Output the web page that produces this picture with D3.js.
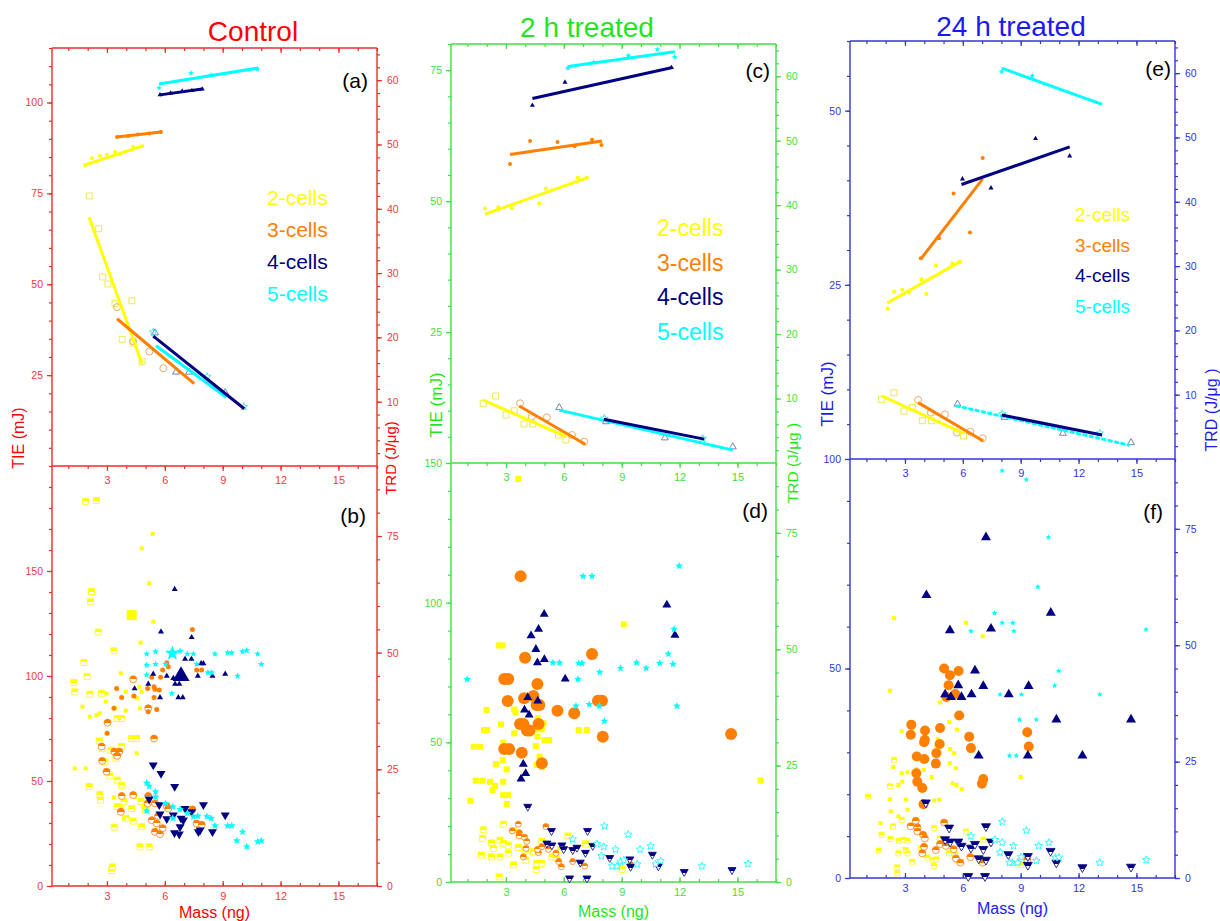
<!DOCTYPE html>
<html>
<head>
<meta charset="utf-8">
<script src="https://cdn.jsdelivr.net/npm/d3@7"></script>
<style>
  body { margin: 0; background: #fff; }
  svg { font-family: "Liberation Sans", Arial, sans-serif; }
</style>
</head>
<body>
<svg id="chart" width="1220" height="921"></svg>
<script>
// shared
const cellNames = ['2-cells', '3-cells', '4-cells', '5-cells'];
const cellColors = ['#ffff00', '#ff8000', '#000080', '#00ffff'];
const openColors = ['#e6e640', '#e8a060', '#6a78a6', '#40e0e0'];
const massTicks = [3, 6, 9, 12, 15];

// ---- Control (a): [mass, value]; fits are [m1, v1, m2, v2]
const ctrlTiePts = [
  [[1.86,82.8],[2.22,84.7],[2.64,85.3],[3.0,85.6],[3.42,86.4],[3.68,85.8],[3.94,86.4],[4.35,87.8],[4.82,88.0]],
  [[3.52,90.5],[4.1,90.8],[4.6,91.2],[5.2,91.5],[5.8,91.9]],
  [[5.75,102.1],[6.3,102.6],[6.9,103.1],[7.4,103.3],[7.94,103.7]],
  [[5.7,104.0],[7.36,108.1],[8.4,107.6],[10.8,109.2]]
];
const ctrlTieFit = [[1.86,82.8,4.82,88.0],[3.52,90.5,5.80,91.9],[5.75,102.1,7.94,103.7],[5.7,105.1,10.85,109.5]];
const ctrlTrdPts = [
  [[2.08,42.0],[2.57,36.9],[2.78,29.4],[3.05,28.3],[3.42,25.3],[4.29,25.7],[3.79,19.7],[4.35,19.1],[4.82,16.2]],
  [[3.52,24.7],[4.35,19.4],[5.92,15.2],[5.2,17.8]],
  [[5.49,20.7],[6.58,14.6],[7.26,14.6],[9.13,11.4]],
  [[5.4,20.8],[8.19,13.9],[10.1,9.2]]
];
const ctrlTrdFit = [[2.07,38.7,4.82,15.9],[3.52,22.9,7.52,12.8],[5.4,20.2,10.12,8.9],[5.54,18.7,9.18,10.7]];

// ---- 2 h treated (c)
const h2TiePts = [
  [[1.91,48.6],[2.6,48.8],[3.3,48.7],[4.72,49.6],[5.07,52.4],[6.73,54.5],[7.2,54.5]],
  [[3.21,57.1],[4.25,61.5],[5.67,61.3],[6.56,60.5],[7.46,61.7],[7.95,60.7]],
  [[4.37,68.3],[6.06,72.7],[11.58,75.5]],
  [[6.21,75.4],[7.55,76.5],[9.34,77.8],[10.85,79.0],[11.75,77.5]]
];
const h2TieFit = [[1.91,47.5,7.23,54.5],[3.21,58.9,7.98,61.5],[4.37,69.6,11.63,75.5],[6.21,75.7,11.75,78.5]];
const h2TrdPts = [
  [[1.82,9.26],[2.46,10.4],[3.0,7.45],[3.43,8.1],[3.94,6.05],[4.39,6.05],[5.72,4.34],[6.11,3.57]],
  [[3.73,9.26],[4.34,7.2],[5.12,7.08],[6.42,4.34],[7.06,3.31]],
  [[5.76,8.6],[8.19,6.4],[11.24,3.9],[14.76,2.5]],
  [[8.1,6.9],[13.2,3.8]]
];
const h2TrdFit = [[1.82,9.77,6.11,4.09],[3.69,8.84,7.11,2.9],[8.07,6.8,13.28,3.7],[5.76,8.2,14.76,2.0]];

// ---- 24 h treated (e)
const h24TiePts = [
  [[2.11,21.6],[2.43,24.0],[2.86,24.3],[3.21,23.9],[3.85,25.8],[4.11,23.7],[4.6,27.8],[5.46,28.1],[5.85,28.3]],
  [[3.82,28.8],[4.77,31.7],[5.52,38.1],[6.37,32.5],[7.03,43.2]],
  [[5.98,40.2],[7.46,38.9],[9.77,46.0],[11.54,43.5]],
  [[8.02,55.6],[9.6,55.0]]
];
const h24TieFit = [[2.08,22.4,5.9,28.4],[3.82,28.7,7.03,40.2],[5.93,39.4,11.54,44.8],[8.02,56.1,13.22,50.9]];
const h24TrdPts = [
  [[1.79,9.28],[2.43,10.3],[2.95,7.46],[3.38,8.0],[3.9,5.96],[4.37,5.96],[6.04,3.58]],
  [[3.68,9.18],[4.34,7.2],[5.07,6.95],[5.69,4.1],[6.39,4.25],[7.03,3.2]],
  [[5.72,8.55],[8.16,6.48],[11.19,4.0],[14.72,2.54]],
  [[8.05,7.0],[13.1,4.0]]
];
const h24TrdFit = [[1.79,9.8,6.04,4.0],[3.68,8.76,7.06,2.8],[8.02,6.84,13.22,3.73],[5.69,8.24,14.58,2.18]];

// ---- Control (b): TIE (filled) and TRD (half) per cell type
const ctrlScatTie = [
  [[5.37,167.6],[4.80,160.8],[5.19,144.1],[5.40,125.9],[4.74,115.9],[3.72,101.3],[4.68,94.9],[4.80,92.5],[2.98,91.7],[4.36,90.5],[3.98,83.5],[4.71,84.6],[2.63,82.2],[2.46,81.4],[1.73,85.4],[2.11,80.6],[3.41,84.6],[2.94,87.8],[3.64,79.8],[2.98,72.7],[4.59,70.8],[4.54,63.2],[1.33,56.0],[1.90,56.0],[3.98,92.5],[4.55,89.4],[3.36,42.2],[4.45,42.5],[4.88,37.8],[3.88,32.2]],
  [[7.43,122.2],[6.10,106.3],[6.18,104.4],[5.89,102.9],[5.78,99.4],[5.32,99.4],[5.44,94.9],[5.49,93.7],[5.71,93.3],[5.44,89.8],[5.11,94.0],[4.40,90.5],[3.76,89.8],[3.50,94.1],[3.36,84.6],[5.14,83.0],[5.58,84.1],[3.01,72.7],[7.65,102.9],[7.91,102.9]],
  [[6.51,141.3],[5.80,121.1],[7.39,118.4],[7.05,108.1],[7.38,108.1],[7.88,106.0],[8.0,106.0],[5.40,101.0],[6.10,100.0],[8.47,100.0],[9.13,101.0],[6.44,98.9],[7.71,100.0],[5.14,96.2],[6.53,96.2],[6.75,96.2],[5.75,89.8],[6.70,89.8],[6.93,89.8],[4.43,94.0]],
  [[5.06,110.5],[5.52,111.6],[6.79,111.9],[7.17,110.5],[7.48,110.5],[8.60,110.5],[9.26,111.1],[9.47,111.1],[10.03,111.6],[10.25,112.1],[10.81,110.5],[11.0,105.6],[5.52,105.6],[5.06,105.2],[6.04,105.6],[7.65,105.6],[8.23,101.6],[8.43,101.6],[5.06,100.5],[9.77,100.0],[6.36,91.7]]
];
const ctrlScatTrd = [
  [[1.89,82.4],[2.46,82.6],[2.20,63.1],[2.15,60.9],[2.55,54.4],[3.36,50.4],[1.80,47.9],[1.97,44.9],[1.28,43.6],[1.33,41.6],[2.11,41.1],[2.72,41.3],[3.53,35.9],[3.76,35.9],[4.28,31.6],[4.54,31.6],[2.60,31.1],[2.75,29.5],[3.20,29.1],[3.46,27.4],[3.76,29.9],[2.89,26.6],[3.15,23.6],[3.53,22.7],[3.76,21.6],[2.08,21.3],[2.63,19.6],[2.67,18.4],[3.38,12.6],[4.28,16.6],[3.71,16.4],[4.36,13.9],[4.80,12.7],[4.76,18.1],[5.00,16.3],[5.19,8.4],[4.71,8.4],[3.98,14.5],[3.24,3.3],[3.29,4.1],[3.88,18.1],[3.53,17.0]],
  [[3.03,35.0],[4.36,44.3],[5.14,38.1],[5.44,31.6],[2.72,29.9],[2.75,26.8],[3.38,28.8],[3.64,28.8],[3.53,27.9],[2.98,24.5],[3.76,19.3],[4.36,19.5],[5.14,19.3],[5.11,17.7],[5.49,17.7],[6.10,17.1],[6.18,16.6],[3.72,15.9],[5.32,14.1],[5.58,13.4],[5.65,15.0],[5.89,12.4],[5.49,11.6],[5.75,11.1],[7.43,16.4],[7.65,13.4],[7.91,13.1]],
  [[5.40,25.9],[5.80,24.1],[6.51,21.3],[5.19,18.6],[5.71,17.4],[5.75,15.4],[6.10,14.4],[6.44,15.2],[7.05,16.6],[6.84,14.5],[6.96,14.1],[6.79,12.7],[7.39,15.9],[8.0,17.4],[9.13,15.2],[7.83,12.0],[7.74,11.6],[6.50,11.4],[6.75,11.1],[8.47,11.6]],
  [[5.06,22.1],[5.19,21.4],[5.52,20.2],[5.52,19.1],[5.06,16.1],[6.04,17.7],[6.41,17.0],[6.79,16.4],[6.41,14.5],[7.17,15.6],[7.48,14.9],[7.71,15.0],[8.18,14.9],[8.40,14.5],[8.60,12.9],[9.26,12.9],[9.47,12.9],[10.03,11.6],[9.73,9.7],[10.25,8.4],[10.81,9.5],[11.0,9.7]]
];
// the three enlarged markers in (b): [cell, mass, TIE]
const ctrlBig = [[0,4.28,129],[3,6.39,110.8],[2,6.84,100]];

// ---- 2 h treated (d)
const h2ScatTie = [
  [[3.64,144.3],[2.65,84.7],[2.83,84.7],[9.11,92.2],[1.99,61.6],[3.43,61.8],[3.50,60.7],[2.74,56.4],[1.86,54.4],[2.03,54.4],[3.43,53.2],[4.65,58.6],[4.95,56.8],[4.69,54.7],[4.86,54.7],[6.77,54.4],[7.20,54.4],[4.99,50.8],[5.24,50.8],[4.63,52.0],[2.86,49.9],[1.33,48.4],[1.65,48.4],[4.55,48.7],[4.74,44.9],[2.83,43.7],[2.48,42.2],[4.59,41.9],[4.86,41.1],[3.04,40.3],[1.44,36.3],[1.79,36.3],[2.17,35.9],[2.43,34.4],[2.31,32.9],[2.86,35.9],[2.86,31.1],[3.12,31.1],[3.04,27.9],[1.16,29.1],[16.2,36.3]],
  [[3.76,109.5],[3.99,80.3],[7.46,81.6],[2.91,72.7],[3.12,72.7],[4.63,70.9],[3.09,64.8],[3.94,65.8],[4.42,66.6],[4.59,63.4],[4.73,63.4],[7.77,64.9],[7.98,64.9],[5.67,61.3],[6.54,60.4],[3.73,56.6],[3.90,56.6],[4.69,56.6],[4.09,54.2],[4.22,54.2],[8.02,52.0],[14.67,53.0],[2.91,47.6],[3.16,47.6],[3.82,46.3],[4.86,42.5]],
  [[4.98,95.9],[4.30,88.2],[4.69,90.5],[4.55,83.3],[4.63,78.5],[4.99,79.7],[6.07,72.7],[4.13,66.1],[4.65,64.8],[3.96,61.6],[4.20,59.8],[3.90,42.2],[4.02,38.9],[3.78,36.9],[11.34,99.2],[11.76,88.4]],
  [[0.99,72.6],[6.99,109.5],[7.46,109.5],[11.98,113.1],[11.71,90.5],[11.42,81.6],[5.43,78.5],[5.78,78.5],[6.77,78.3],[6.94,78.3],[7.86,75.1],[8.94,76.5],[9.77,78.5],[10.27,76.5],[10.97,78.3],[11.66,78.0],[6.73,72.6],[6.63,63.0],[7.32,63.6],[7.84,63.0],[11.86,63.0],[8.10,57.6]]
];
const h2ScatTrd = [
  [[2.86,12.4],[1.82,11.2],[3.39,11.0],[2.25,8.4],[1.79,9.4],[2.69,9.0],[2.86,8.3],[3.12,7.9],[2.34,7.2],[3.64,7.4],[4.0,6.9],[4.42,6.5],[4.86,8.7],[1.73,5.8],[2.25,5.4],[2.69,5.4],[3.12,6.2],[3.39,3.7],[4.03,4.7],[4.57,2.7],[4.6,4.0],[4.86,4.0],[5.39,5.4],[5.64,5.1],[5.82,6.9],[6.21,9.9],[7.12,8.2],[9.02,2.7],[2.65,1.1]],
  [[3.64,12.4],[5.07,11.9],[3.33,11.0],[3.69,10.6],[3.68,9.9],[3.96,9.6],[4.08,8.7],[4.04,7.2],[3.90,5.4],[4.68,6.3],[4.63,7.0],[4.86,7.6],[5.2,7.0],[5.59,6.2],[5.73,4.4],[5.87,3.3],[6.46,4.4],[7.08,3.4],[9.46,3.7]],
  [[4.13,16.2],[5.36,11.0],[7.23,11.0],[5.12,8.3],[5.38,7.9],[5.90,7.9],[5.99,7.1],[6.46,6.9],[6.68,7.4],[7.50,7.8],[7.12,6.3],[6.85,4.2],[8.38,5.2],[9.42,4.9],[9.46,3.3],[10.59,5.9],[10.9,3.4],[12.24,2.2],[14.72,2.6],[6.30,0.8],[7.20,0.8]],
  [[8.10,12.0],[9.34,10.2],[6.46,9.2],[7.72,8.2],[8.07,7.6],[8.68,7.0],[9.95,7.0],[10.50,7.7],[7.95,5.6],[8.94,4.4],[9.11,4.7],[9.80,3.8],[8.50,3.4],[8.76,3.4],[11.02,4.5],[10.76,3.8],[13.16,3.4],[15.54,3.9]]
];

// ---- 24 h treated (f)
const h24ScatTie = [
  [[2.43,62.0],[6.16,60.9],[7.03,57.7],[2.22,44.7],[4.82,41.9],[5.29,37.2],[5.69,35.4],[2.83,35.0],[3.38,35.6],[4.69,33.2],[4.63,31.3],[5.34,30.8],[5.55,29.8],[4.51,29.4],[5.33,27.4],[5.64,26.2],[2.39,26.5],[2.83,25.0],[3.13,25.2],[3.99,25.8],[3.59,26.0],[4.38,24.1],[5.47,22.6],[5.67,22.2],[5.95,21.2],[2.86,23.0],[2.66,22.2],[3.99,22.0],[2.22,18.8],[3.04,18.7],[3.13,16.3],[2.26,15.9],[2.66,14.7],[4.51,18.5],[4.77,18.7],[1.73,13.1],[9.0,24.1]],
  [[5.03,50.0],[5.33,48.4],[5.78,49.4],[5.26,46.0],[5.61,43.9],[5.15,43.2],[5.81,38.8],[3.33,36.6],[3.30,34.2],[4.04,35.2],[4.82,35.8],[4.03,33.0],[3.99,32.4],[4.80,32.0],[6.33,33.7],[6.42,31.0],[9.34,34.8],[9.42,31.4],[3.61,29.0],[4.00,28.4],[4.63,29.8],[4.60,27.3],[3.59,25.0],[3.64,23.0],[3.90,21.5],[3.96,17.6],[7.06,23.6],[6.99,22.5]],
  [[7.20,81.3],[4.11,67.5],[10.56,63.3],[5.33,59.1],[7.46,59.5],[6.63,49.5],[5.76,46.0],[7.06,45.8],[9.41,45.8],[5.08,43.8],[5.38,43.2],[5.93,43.2],[6.45,43.8],[8.38,43.8],[10.85,37.8],[14.72,37.8],[6.82,29.2],[9.37,29.2],[12.2,29.2]],
  [[8.04,97.2],[9.29,95.1],[10.44,81.3],[9.89,69.5],[7.64,63.2],[8.04,60.9],[8.59,60.9],[6.42,58.9],[8.65,58.9],[15.5,59.3],[10.97,49.4],[10.76,45.9],[7.93,43.8],[9.04,43.8],[13.1,43.8],[8.94,37.8],[9.81,37.8],[8.42,29.2],[8.77,29.2]]
];
const h24ScatTrd = [
  [[1.09,17.5],[2.22,19.7],[2.43,25.4],[2.83,12.5],[1.79,9.3],[2.25,8.4],[2.38,11.1],[2.69,8.0],[2.92,8.2],[3.13,8.0],[3.04,6.0],[3.13,5.3],[3.38,3.5],[2.66,5.3],[1.65,5.9],[2.60,2.3],[2.60,1.0],[3.82,6.4],[3.9,5.7],[4.17,4.4],[4.46,3.9],[4.51,2.6],[4.63,4.0],[4.80,8.5],[4.51,10.7],[5.29,5.3],[5.34,6.4],[5.61,5.1],[5.67,4.0],[5.90,3.5],[6.16,10.0],[7.06,8.2],[9.02,2.8]],
  [[3.56,12.3],[3.29,11.1],[3.64,10.9],[3.64,10.0],[3.94,9.3],[4.03,8.5],[3.99,6.7],[3.9,5.3],[4.6,6.0],[4.82,7.3],[5.03,11.9],[5.12,6.9],[5.52,6.2],[5.64,4.2],[5.87,3.3],[6.39,4.5],[7.03,3.3],[9.34,3.9]],
  [[4.08,16.2],[5.29,10.8],[7.20,11.1],[5.08,8.3],[5.34,7.8],[5.76,7.8],[5.93,6.9],[6.42,6.5],[6.63,7.3],[7.06,6.2],[7.46,7.8],[6.82,4.2],[7.20,3.9],[8.36,5.1],[9.37,4.7],[9.37,2.8],[10.55,5.8],[10.85,3.3],[12.2,2.3],[14.72,2.4],[6.28,0.4],[7.15,0.4]],
  [[8.04,12.1],[9.29,10.2],[6.42,9.0],[7.67,8.2],[8.04,7.6],[8.62,6.9],[9.93,6.9],[10.47,7.6],[7.93,5.5],[9.02,4.5],[8.56,3.3],[8.85,3.3],[9.81,3.7],[10.8,4.4],[10.99,4.4],[13.1,3.3],[15.5,3.9],[8.42,3.3]]
];

// ---- layout / style per column
const columns = [
  { title: 'Control', tc: '#ff0000', ac: '#ee2b2b', lc: '#f03a3a',
    L: 52, R: 377, T: 48, M: 466, B: 886, titleX: 253, titleY: 41,
    topTie: [0, 115], topTicks: [25, 50, 75, 100],
    botTie: [0, 200], botTicks: [0, 50, 100, 150], botStep: 10,
    tieX: 18, tieY: 438, tieFs: 16, trdX: 391, trdY: 458, trdFs: 15, trdText: 'TRD (J/\u03bcg)',
    legX: 267, legY: 205, legDy: 32, legFs: 21,
    upper: 'a', lower: 'b', upX: 368, upY: 88, loX: 366, loY: 523, massY: 918,
    tiePts: ctrlTiePts, tieFit: ctrlTieFit, trdPts: ctrlTrdPts, trdFit: ctrlTrdFit,
    scatTie: ctrlScatTie, scatTrd: ctrlScatTrd, big: ctrlBig,
    fw: [4, 5, 6, 7], hw: [6, 7, 9, 8], mode: ['half', 'half', 'full', 'full'], dotted: false },
  { title: '2 h treated', tc: '#1ee61e', ac: '#3ee03e', lc: '#3ee03e',
    L: 451, R: 776, T: 44, M: 463, B: 882, titleX: 587, titleY: 37,
    topTie: [0, 80], topTicks: [25, 50, 75],
    botTie: [0, 150], botTicks: [0, 50, 100, 150], botStep: 10,
    tieX: 436, tieY: 405, tieFs: 17, trdX: 793, trdY: 463, trdFs: 15.5, trdText: 'TRD (J/\u03bcg )',
    legX: 657, legY: 236, legDy: 34.5, legFs: 23,
    upper: 'c', lower: 'd', upX: 770, upY: 78, loX: 768, loY: 518, massY: 917,
    tiePts: h2TiePts, tieFit: h2TieFit, trdPts: h2TrdPts, trdFit: h2TrdFit,
    scatTie: h2ScatTie, scatTrd: h2ScatTrd, big: [],
    fw: [6, 12, 9, 8], hw: [6, 6, 8, 8], mode: ['half', 'half', 'half', 'open'], dotted: false },
  { title: '24 h treated', tc: '#1a1aee', ac: '#3434d8', lc: '#3434d8',
    L: 850, R: 1175, T: 41, M: 459, B: 878, titleX: 1011, titleY: 36,
    topTie: [0, 60], topTicks: [25, 50],
    botTie: [0, 100], botTicks: [0, 50, 100], botStep: 10,
    tieX: 827, tieY: 394, tieFs: 17, trdX: 1211, trdY: 410, trdFs: 16, trdText: 'TRD (J/\u03bcg )',
    legX: 1075, legY: 221, legDy: 30.7, legFs: 19,
    upper: 'e', lower: 'f', upX: 1171, upY: 76, loX: 1163, loY: 519, massY: 914,
    tiePts: h24TiePts, tieFit: h24TieFit, trdPts: h24TrdPts, trdFit: h24TrdFit,
    scatTie: h24ScatTie, scatTrd: h24ScatTrd, big: [],
    fw: [4, 10, 10, 6], hw: [5, 7, 9, 8], mode: ['half', 'half', 'half', 'open'], dotted: true }
];

const svg = d3.select('#chart');
const defs = svg.append('defs');
cellColors.forEach((c, i) => {
  const gr = defs.append('linearGradient').attr('id', 'half' + i)
    .attr('x1', 0).attr('y1', 0).attr('x2', 0).attr('y2', 1);
  gr.append('stop').attr('offset', '0%').attr('stop-color', c);
  gr.append('stop').attr('offset', '50%').attr('stop-color', c);
  gr.append('stop').attr('offset', '50%').attr('stop-color', '#fff');
  gr.append('stop').attr('offset', '100%').attr('stop-color', '#fff');
});

function shapePath(type, w) {
  const h = w / 2;
  if (type === 'sq') return `M${-h},${-h}H${h}V${h}H${-h}Z`;
  if (type === 'ci') return `M${-h},0A${h},${h} 0 1,0 ${h},0A${h},${h} 0 1,0 ${-h},0Z`;
  const t = w * 0.866;
  if (type === 'tu') return `M0,${-t * 2 / 3}L${h},${t / 3}L${-h},${t / 3}Z`;
  if (type === 'td') return `M0,${t * 2 / 3}L${h},${-t / 3}L${-h},${-t / 3}Z`;
  let p = '';
  for (let k = 0; k < 10; k++) {
    const r = k % 2 ? h * 0.45 : h;
    const a = -Math.PI / 2 + k * Math.PI / 5;
    p += (k ? 'L' : 'M') + (r * Math.cos(a)).toFixed(2) + ',' + (r * Math.sin(a)).toFixed(2);
  }
  return p + 'Z';
}

function dots(g, pts, x, y, type, w, fill, stroke, sw) {
  g.append('g').selectAll('path').data(pts).join('path')
    .attr('d', shapePath(type, w))
    .attr('transform', d => `translate(${x(d[0])},${y(d[1])})`)
    .attr('fill', fill)
    .attr('stroke', stroke || 'none')
    .attr('stroke-width', sw || 0);
}

function fitLine(g, f, x, y, color, dotted) {
  const l = g.append('line')
    .attr('x1', x(f[0])).attr('y1', y(f[1]))
    .attr('x2', x(f[2])).attr('y2', y(f[3]))
    .attr('stroke', color).attr('stroke-width', 3);
  if (dotted) l.attr('stroke-dasharray', '2.5,4').attr('stroke-linecap', 'round');
}

const topShapes = ['sq', 'ci', 'tu', 'st'];
const botShapes = ['sq', 'ci', 'td', 'st'];

function column(c) {
  const g = svg.append('g');
  const x = d3.scaleLinear().domain([0.15, 17]).range([c.L, c.R]);
  const yTL = d3.scaleLinear().domain(c.topTie).range([c.M, c.T]);
  const yTR = d3.scaleLinear().domain([0, 65]).range([c.M, c.T]);
  const yBL = d3.scaleLinear().domain(c.botTie).range([c.B, c.M]);
  const yBR = d3.scaleLinear().domain([0, 90]).range([c.B, c.M]);

  const ax = (gen, tx, ty, fs) => {
    const a = g.append('g').attr('transform', `translate(${tx},${ty})`).call(gen);
    a.select('.domain').remove();
    a.attr('font-family', null).attr('font-size', fs || 10.5);
    a.selectAll('line').attr('stroke', c.ac).attr('stroke-width', 1.2);
    a.selectAll('text').attr('fill', c.lc);
    return a;
  };

  // y axes, minor then major
  ax(d3.axisLeft(yTL).tickValues(d3.range(5, c.topTie[1] + 0.1, 5)).tickSize(3).tickFormat(''), c.L, 0);
  ax(d3.axisLeft(yTL).tickValues(c.topTicks).tickSize(5).tickPadding(4), c.L, 0);
  ax(d3.axisLeft(yBL).tickValues(d3.range(0, c.botTie[1] + 0.1, c.botStep)).tickSize(3).tickFormat(''), c.L, 0);
  ax(d3.axisLeft(yBL).tickValues(c.botTicks).tickSize(5).tickPadding(4), c.L, 0);
  ax(d3.axisRight(yTR).tickValues(d3.range(2, 65, 2)).tickSize(3).tickFormat(''), c.R, 0);
  ax(d3.axisRight(yTR).tickValues([10, 20, 30, 40, 50, 60]).tickSize(5).tickPadding(5), c.R, 0);
  ax(d3.axisRight(yBR).tickValues(d3.range(0, 90, 5)).tickSize(3).tickFormat(''), c.R, 0);
  ax(d3.axisRight(yBR).tickValues([0, 25, 50, 75]).tickSize(5).tickPadding(5), c.R, 0);

  // x axes
  const minorX = d3.range(1, 18);
  ax(d3.axisBottom(x).tickValues(minorX).tickSize(3).tickFormat(''), 0, c.T);
  ax(d3.axisBottom(x).tickValues(massTicks).tickSize(5).tickFormat(''), 0, c.T);
  ax(d3.axisBottom(x).tickValues(minorX).tickSize(3).tickFormat(''), 0, c.M);
  ax(d3.axisBottom(x).tickValues(massTicks).tickSize(5).tickPadding(5), 0, c.M, 11);
  ax(d3.axisTop(x).tickValues(minorX).tickSize(3).tickFormat(''), 0, c.B);
  ax(d3.axisTop(x).tickValues(massTicks).tickSize(5).tickFormat(''), 0, c.B);
  ax(d3.axisBottom(x).tickValues(massTicks).tickSize(0).tickPadding(6), 0, c.B, 11);

  // frame
  const frame = g.append('g').attr('stroke', c.ac).attr('stroke-width', 1.4);
  frame.append('line').attr('x1', c.L).attr('x2', c.L).attr('y1', c.T).attr('y2', c.B);
  frame.append('line').attr('x1', c.R).attr('x2', c.R).attr('y1', c.T).attr('y2', c.B);
  [c.T, c.M, c.B].forEach(yy => frame.append('line')
    .attr('x1', c.L).attr('x2', c.R).attr('y1', yy).attr('y2', yy));

  // upper panel: TIE (filled markers) and TRD (open markers) with fits
  const fwTop = [3.5, 4, 5, 6];
  const owTop = [6, 7, 7, 8];
  c.tiePts.forEach((pts, i) => dots(g, pts, x, yTL, topShapes[i], fwTop[i], cellColors[i]));
  c.tieFit.forEach((f, i) => fitLine(g, f, x, yTL, cellColors[i], false));
  c.trdPts.forEach((pts, i) => dots(g, pts, x, yTR, topShapes[i], owTop[i], 'none', openColors[i], 0.9));
  [0, 1, 3, 2].forEach(i => fitLine(g, c.trdFit[i], x, yTR, cellColors[i], c.dotted && i === 3));

  // lower panel scatter
  [0, 1, 2, 3].forEach(i => {
    const m = c.mode[i];
    const fill = m === 'half' ? `url(#half${i})` : m === 'open' ? '#fff' : cellColors[i];
    dots(g, c.scatTrd[i], x, yBR, botShapes[i], c.hw[i], fill, cellColors[i], m === 'full' ? 0 : 0.8);
    dots(g, c.scatTie[i], x, yBL, topShapes[i], c.fw[i], cellColors[i]);
  });
  const bigW = [10, 10, 17, 15];
  c.big.forEach(b => dots(g, [[b[1], b[2]]], x, yBL, topShapes[b[0]], bigW[b[0]], cellColors[b[0]]));

  // texts
  g.append('text').attr('x', c.titleX).attr('y', c.titleY).attr('text-anchor', 'middle')
    .attr('font-size', 28).attr('fill', c.tc).text(c.title);
  g.append('text').attr('transform', `translate(${c.tieX},${c.tieY}) rotate(-90)`)
    .attr('text-anchor', 'middle').attr('dy', '0.35em').attr('font-size', c.tieFs)
    .attr('fill', c.tc).text('TIE (mJ)');
  g.append('text').attr('transform', `translate(${c.trdX},${c.trdY}) rotate(-90)`)
    .attr('text-anchor', 'middle').attr('dy', '0.35em').attr('font-size', c.trdFs)
    .attr('fill', c.tc).text(c.trdText);
  g.append('text').attr('x', (c.L + c.R) / 2).attr('y', c.massY).attr('text-anchor', 'middle')
    .attr('font-size', 16).attr('fill', c.tc).text('Mass (ng)');
  g.append('text').attr('x', c.upX).attr('y', c.upY).attr('text-anchor', 'end')
    .attr('font-size', 21).attr('fill', '#000').text(`(${c.upper})`);
  g.append('text').attr('x', c.loX).attr('y', c.loY).attr('text-anchor', 'end')
    .attr('font-size', 21).attr('fill', '#000').text(`(${c.lower})`);
  cellNames.forEach((n, i) => g.append('text')
    .attr('x', c.legX).attr('y', c.legY + i * c.legDy)
    .attr('font-size', c.legFs).attr('fill', cellColors[i]).text(n));
}

columns.forEach(column);
</script>
</body>
</html>
